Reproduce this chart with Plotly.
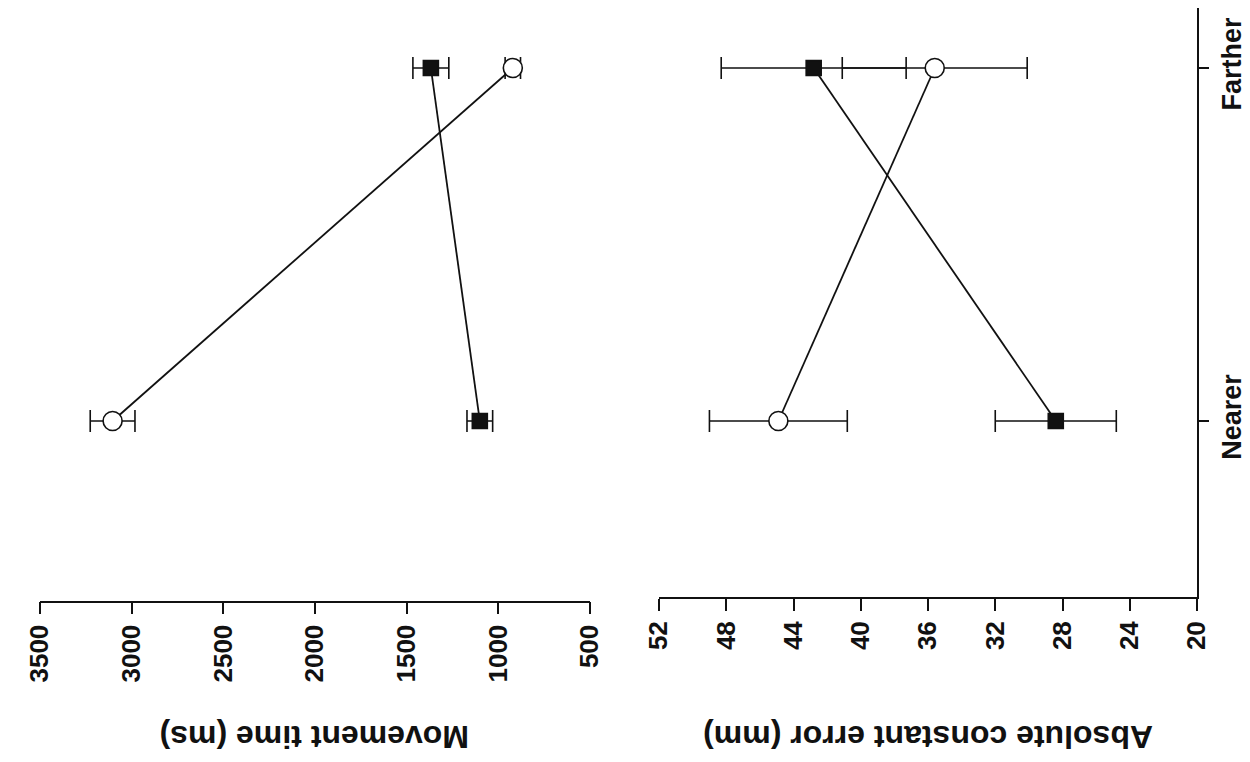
import plotly.graph_objects as go

# ---- data ----
categories = ["Nearer", "Farther"]

mt_open = [3104, 921]          # Movement time, open circles (ms)
mt_open_err = [122, 42]
mt_filled = [1101, 1368]       # Movement time, filled squares (ms)
mt_filled_err = [70, 98]

ace_open = [44.9, 35.6]        # Absolute constant error, open circles (mm)
ace_open_err = [4.1, 5.5]
ace_filled = [28.4, 42.8]      # Absolute constant error, filled squares (mm)
ace_filled_err = [3.6, 5.5]

mt_ticks = [500, 1000, 1500, 2000, 2500, 3000, 3500]
ace_ticks = [20, 24, 28, 32, 36, 40, 44, 48, 52]

mt_title = "Movement time (ms)"
ace_title = "Absolute constant error (mm)"

# ---- figure ----
OFF = 8                      # page body margin in the browser
W, H = 1250 - OFF, 762 - OFF
FONT = "Liberation Sans, Arial, Helvetica, sans-serif"
BLACK = "#111111"

def px_x(p):
    return (p - OFF) / W

def px_y(p):
    return 1 - (p - OFF) / H

fig = go.Figure()

def add_series(x, err, xa, ya, symbol, size, fill):
    fig.add_trace(go.Scatter(
        x=x, y=categories, xaxis=xa, yaxis=ya,
        mode="lines+markers",
        line=dict(color=BLACK, width=1.8),
        marker=dict(symbol=symbol, size=size, color=fill,
                    line=dict(color=BLACK, width=1.6)),
        error_x=dict(type="data", array=err, visible=True,
                     color=BLACK, thickness=1.6, width=11),
        showlegend=False, cliponaxis=False,
    ))

# top panel: Movement time (x axis 1, y axis 2)
add_series(mt_open, mt_open_err, "x", "y2", "circle", 19, "white")
add_series(mt_filled, mt_filled_err, "x", "y2", "square", 15, BLACK)
# bottom panel: Absolute constant error (x axis 2, y axis 1)
add_series(ace_open, ace_open_err, "x2", "y", "circle", 19, "white")
add_series(ace_filled, ace_filled_err, "x2", "y", "square", 15, BLACK)

nearer_px, farther_px = 421, 68
unit = nearer_px - farther_px
top_px = OFF

def cat_range(bottom_px):
    return [-(bottom_px - nearer_px) / unit, (nearer_px - top_px) / unit]

tickfont = dict(family=FONT, size=26, color=BLACK, weight="bold")

fig.update_layout(
    width=W, height=H,
    margin=dict(l=0, r=0, t=0, b=0, autoexpand=False),
    paper_bgcolor="white", plot_bgcolor="white",
    xaxis=dict(
        domain=[px_x(40), px_x(590)], range=[3500, 500], anchor="y2",
        tickvals=mt_ticks, ticks="outside", ticklen=12, tickwidth=1.6,
        tickcolor=BLACK, showline=True, linecolor=BLACK, linewidth=1.6,
        showgrid=False, zeroline=False, tickangle=-90, tickfont=tickfont,
        automargin=False,
    ),
    xaxis2=dict(
        domain=[px_x(659), px_x(1197)], range=[52, 20], anchor="y",
        tickvals=ace_ticks, ticks="outside", ticklen=12, tickwidth=1.6,
        tickcolor=BLACK, showline=True, linecolor=BLACK, linewidth=1.6,
        showgrid=False, zeroline=False, tickangle=-90, tickfont=tickfont,
        automargin=False,
    ),
    yaxis=dict(
        domain=[px_y(597), 1], type="category", categoryarray=categories,
        range=cat_range(597), anchor="x2", side="right",
        ticks="outside", ticklen=10, tickwidth=1.6, tickcolor=BLACK,
        showline=True, linecolor=BLACK, linewidth=1.6,
        showgrid=False, zeroline=False, tickangle=-90,
        tickfont=dict(family=FONT, size=27, color=BLACK, weight="bold"),
        automargin=False,
    ),
    yaxis2=dict(
        domain=[px_y(600.5), 1], type="category", categoryarray=categories,
        range=cat_range(600.5), anchor="x", visible=False, automargin=False,
    ),
    annotations=[
        dict(text=mt_title, xref="paper", yref="paper",
             x=px_x(315), y=px_y(737), xanchor="center", yanchor="middle",
             textangle=180, showarrow=False,
             font=dict(family=FONT, size=32, color=BLACK, weight="bold")),
        dict(text=ace_title, xref="paper", yref="paper",
             x=px_x(928), y=px_y(737), xanchor="center", yanchor="middle",
             textangle=180, showarrow=False,
             font=dict(family=FONT, size=32, color=BLACK, weight="bold")),
    ],
)

fig.write_html("out.html")
